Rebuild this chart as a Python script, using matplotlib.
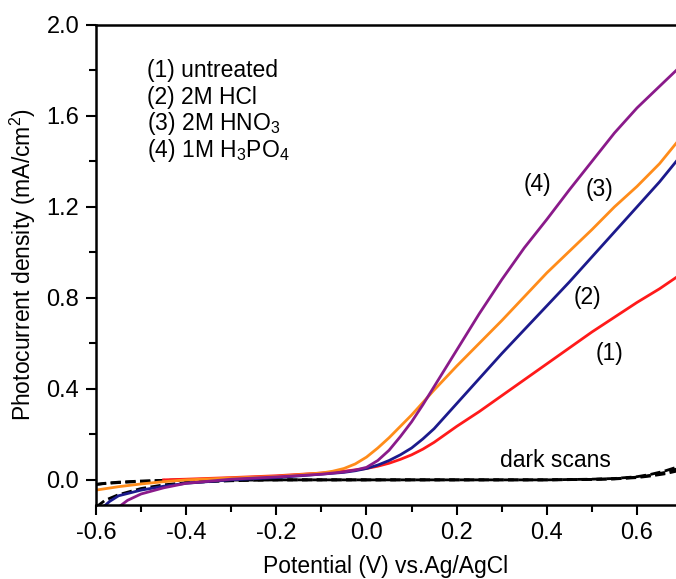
import numpy as np
import matplotlib.pyplot as plt

plt.rcParams['font.family'] = ['Liberation Sans', 'DejaVu Sans']
plt.rcParams['mathtext.fontset'] = 'custom'
plt.rcParams['mathtext.rm'] = 'Liberation Sans'
plt.rcParams['mathtext.it'] = 'Liberation Sans'

# (1) untreated
x1 = [-0.45, -0.4, -0.3, -0.2, -0.1, -0.05, 0.0, 0.025, 0.05, 0.075, 0.1, 0.125, 0.15, 0.175,
      0.2, 0.25, 0.3, 0.35, 0.4, 0.45, 0.5, 0.55, 0.6, 0.65, 0.687]
y1 = [0.0, 0.003, 0.01, 0.018, 0.03, 0.038, 0.05, 0.06, 0.073, 0.09, 0.11, 0.135, 0.165, 0.2,
      0.235, 0.30, 0.37, 0.44, 0.51, 0.58, 0.65, 0.715, 0.78, 0.84, 0.89]

# (2) 2M HCl
x2 = [-0.584, -0.57, -0.55, -0.5, -0.45, -0.4, -0.3, -0.2, -0.1, -0.05, -0.025, 0.0, 0.025,
      0.05, 0.075, 0.1, 0.125, 0.15, 0.175, 0.2, 0.25, 0.3, 0.35, 0.4, 0.45, 0.5, 0.55,
      0.6, 0.65, 0.687]
y2 = [-0.12, -0.095, -0.07, -0.045, -0.028, -0.015, 0.0, 0.01, 0.025, 0.033, 0.04, 0.05, 0.065,
      0.085, 0.11, 0.14, 0.18, 0.225, 0.28, 0.335, 0.445, 0.555, 0.66, 0.765, 0.87, 0.98, 1.09,
      1.20, 1.31, 1.40]

# (3) 2M HNO3
x3 = [-0.6, -0.55, -0.5, -0.45, -0.4, -0.3, -0.2, -0.1, -0.075, -0.05, -0.025, 0.0, 0.025,
      0.05, 0.075, 0.1, 0.125, 0.15, 0.2, 0.25, 0.3, 0.35, 0.4, 0.45, 0.5, 0.55, 0.6, 0.65,
      0.687]
y3 = [-0.045, -0.03, -0.018, -0.008, 0.0, 0.008, 0.015, 0.03, 0.038, 0.05, 0.07, 0.10, 0.14,
      0.185, 0.235, 0.285, 0.34, 0.395, 0.50, 0.60, 0.70, 0.805, 0.91, 1.005, 1.10, 1.20, 1.29,
      1.39, 1.48]

# (4) 1M H3PO4
x4 = [-0.55, -0.53, -0.5, -0.45, -0.4, -0.3, -0.2, -0.1, -0.05, -0.025, 0.0, 0.025, 0.05,
      0.075, 0.1, 0.125, 0.15, 0.175, 0.2, 0.25, 0.3, 0.35, 0.4, 0.45, 0.5, 0.55, 0.6, 0.65,
      0.687]
y4 = [-0.12, -0.09, -0.062, -0.035, -0.015, 0.003, 0.013, 0.025, 0.035, 0.043, 0.055, 0.085,
      0.13, 0.19, 0.255, 0.33, 0.41, 0.49, 0.57, 0.73, 0.88, 1.02, 1.145, 1.275, 1.40, 1.525,
      1.635, 1.73, 1.80]

# dark scans
xd = [-0.6, -0.58, -0.55, -0.5, -0.45, -0.4, -0.3, -0.2, -0.1, 0.0, 0.1, 0.2, 0.3,
      0.4, 0.5, 0.55, 0.6, 0.63, 0.66, 0.687]
yd_a = [-0.02, -0.015, -0.01, -0.005, -0.002, 0.0, 0.0, 0.0, 0.0, 0.0, 0.0, 0.0, 0.0,
        0.0, 0.002, 0.004, 0.01, 0.017, 0.026, 0.038]
yd_b = [-0.12, -0.09, -0.065, -0.038, -0.022, -0.012, -0.004, 0.0, 0.0, 0.0, 0.0, 0.0, 0.0,
        0.0, 0.003, 0.006, 0.014, 0.024, 0.038, 0.055]
yd_c = [-0.02, -0.016, -0.012, -0.007, -0.003, -0.001, 0.0, 0.0, 0.0, 0.0, 0.0, 0.0, 0.0,
        0.0, 0.002, 0.005, 0.012, 0.02, 0.032, 0.047]

legend_lines = ["(1) untreated", "(2) 2M HCl", "(3) 2M HNO$_3$", "(4) 1M H$_3$PO$_4$"]

fig = plt.figure(figsize=(6.76, 5.79), dpi=100)
ax = fig.add_axes([0.142, 0.128, 0.858, 0.829])

for yd in (yd_a, yd_b, yd_c):
    ax.plot(xd, yd, 'k--', lw=2)

ax.plot(x1, y1, color='#ff1a1a', lw=2)
ax.plot(x2, y2, color='#1c1a8c', lw=2)
ax.plot(x3, y3, color='#ff8c1a', lw=2)
ax.plot(x4, y4, color='#8a1a8a', lw=2)

ax.set_xlim(-0.6, 0.6865)
ax.set_ylim(-0.11, 2.0)
ax.set_xticks([-0.6, -0.4, -0.2, 0.0, 0.2, 0.4, 0.6])
ax.set_xticks([-0.5, -0.3, -0.1, 0.1, 0.3, 0.5], minor=True)
ax.set_yticks([0.0, 0.4, 0.8, 1.2, 1.6, 2.0])
ax.set_yticks([0.2, 0.6, 1.0, 1.4, 1.8], minor=True)
ax.set_xticklabels(["-0.6", "-0.4", "-0.2", "0.0", "0.2", "0.4", "0.6"])
ax.set_yticklabels(["0.0", "0.4", "0.8", "1.2", "1.6", "2.0"])
ax.tick_params(which='major', direction='out', length=7, width=1.5, labelsize=17, pad=5)
ax.tick_params(which='minor', direction='out', length=5, width=1.5)
ax.spines['right'].set_visible(False)
for s in ('left', 'bottom', 'top'):
    ax.spines[s].set_linewidth(1.8)

ax.set_xlabel("Potential (V) vs.Ag/AgCl", fontsize=16.5, labelpad=8)
ax.set_ylabel("Photocurrent density (mA/cm$^2$)", fontsize=16.5, labelpad=6)

for i, s in enumerate(legend_lines):
    ax.text(-0.487, 1.80 - i * 0.117, s, fontsize=16.5, va='center', ha='left')

ax.text(0.38, 1.30, "(4)", fontsize=16.5, ha='center', va='center')
ax.text(0.516, 1.275, "(3)", fontsize=16.5, ha='center', va='center')
ax.text(0.491, 0.80, "(2)", fontsize=16.5, ha='center', va='center')
ax.text(0.54, 0.555, "(1)", fontsize=16.5, ha='center', va='center')
ax.text(0.42, 0.083, "dark scans", fontsize=16.5, ha='center', va='center')

plt.savefig("out.png", dpi=100)
